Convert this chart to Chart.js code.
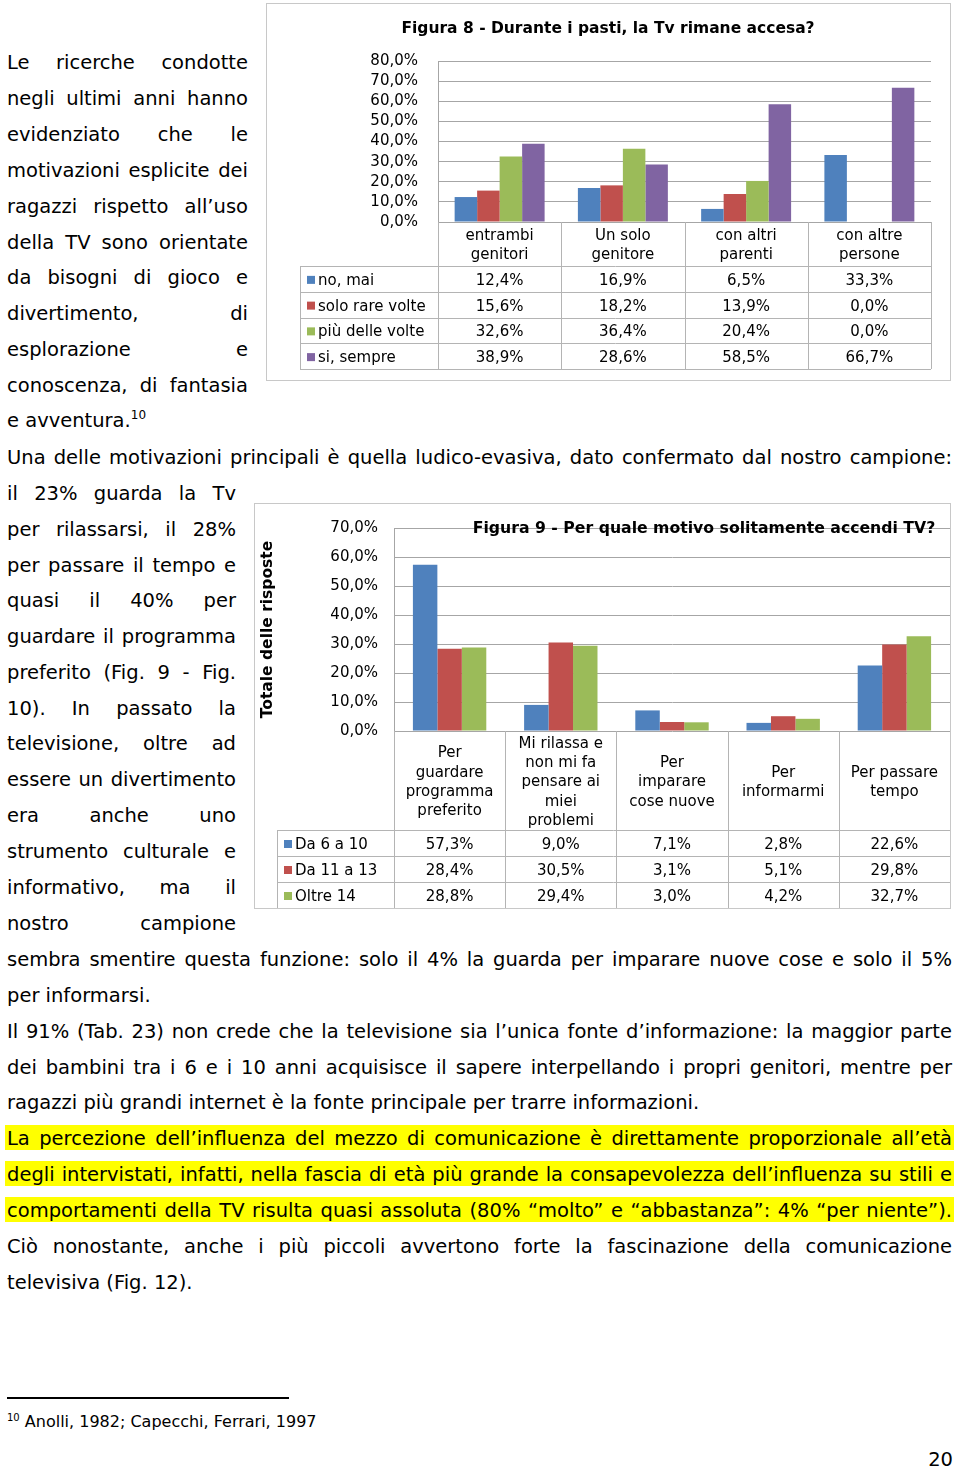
<!DOCTYPE html>
<html>
<head>
<meta charset="utf-8">
<script src="https://cdn.jsdelivr.net/npm/chart.js"></script>
<style>
  html, body { margin: 0; padding: 0; background: #fff; }
  #page { position: relative; width: 960px; height: 1469px; overflow: hidden; background: #fff;
          font-family: "DejaVu Sans", Verdana, sans-serif; color: #000; }
  .ln { position: absolute; height: 36px; line-height: 36px; font-size: 19.5px; white-space: nowrap; }
  .hl { position: absolute; background: #ffff00; height: 25px; }
  sup { font-size: 12px; line-height: 0; vertical-align: 8px; }
  canvas { position: absolute; }
</style>
</head>
<body>
<div id="page">
  <canvas id="fig8" width="685" height="378" style="left:266px;top:3px"></canvas>
  <canvas id="fig9" width="697" height="406" style="left:254px;top:503px"></canvas>
</div>
<script>
// figura 8 - durante i pasti
const cats8 = [['entrambi', 'genitori'], ['Un solo', 'genitore'], ['con altri', 'parenti'], ['con altre', 'persone']];
const noMai = [12.4, 16.9, 6.5, 33.3];
const soloRare = [15.6, 18.2, 13.9, 0.0];
const piuVolte = [32.6, 36.4, 20.4, 0.0];
const siSempre = [38.9, 28.6, 58.5, 66.7];
const series8 = ['no, mai', 'solo rare volte', 'più delle volte', 'si, sempre'];
const yMax8 = 80;

// figura 9 - perche accendi la tv
const cats9 = [['Per', 'guardare', 'programma', 'preferito'], ['Mi rilassa e', 'non mi fa', 'pensare ai', 'miei', 'problemi'],
  ['Per', 'imparare', 'cose nuove'], ['Per', 'informarmi'], ['Per passare', 'tempo']];
const da6a10 = [57.3, 9.0, 7.1, 2.8, 22.6];
const da11a13 = [28.4, 30.5, 3.1, 5.1, 29.8];
const oltre14 = [28.8, 29.4, 3.0, 4.2, 32.7];
const series9 = ['Da 6 a 10', 'Da 11 a 13', 'Oltre 14'];
const yMax9 = 70;

const colors = ['#4f81bd', '#c0504d', '#9bbb59', '#8064a2'];
const pct = v => Number(v).toFixed(1).replace('.', ',') + '%';

Chart.defaults.font.family = '"DejaVu Sans", Verdana, sans-serif';
Chart.defaults.font.size = 15;
Chart.defaults.color = '#000';

// draws the data table under the plot, the frame and the title
const tablePlugin = {
  id: 'dataTable',
  afterDraw(chart, args, o) {
    const { ctx, chartArea: ca, scales: { x } } = chart;
    const labels = chart.data.labels;
    const ds = chart.data.datasets;
    const n = labels.length;
    const colW = (ca.right - ca.left) / n;
    const tb = o.headerBottom + ds.length * o.rowH;
    ctx.save();
    ctx.strokeStyle = '#b4b4b4';
    ctx.lineWidth = 1;
    ctx.beginPath();
    for (let r = 0; r <= ds.length; r++) {
      const y = Math.round(o.headerBottom + r * o.rowH) + 0.5;
      ctx.moveTo(o.legendLeft, y); ctx.lineTo(ca.right, y);
    }
    for (let i = 0; i <= n; i++) {
      const xx = Math.round(ca.left + i * colW) + 0.5;
      ctx.moveTo(xx, ca.bottom); ctx.lineTo(xx, tb);
    }
    ctx.moveTo(o.legendLeft + 0.5, o.headerBottom); ctx.lineTo(o.legendLeft + 0.5, tb);
    ctx.stroke();
    ctx.strokeStyle = '#c8c8c8';
    ctx.strokeRect(0.5, 0.5, chart.width - 1, chart.height - 1);

    ctx.fillStyle = '#000';
    ctx.font = '15px "DejaVu Sans"';
    ctx.textAlign = 'center';
    ctx.textBaseline = 'middle';
    const hc = (ca.bottom + o.headerBottom) / 2 + 2;
    labels.forEach((lab, i) => {
      const cx = x.getPixelForValue(i);
      lab.forEach((t, k) => ctx.fillText(t, cx, hc + (k - (lab.length - 1) / 2) * o.lineH));
      ds.forEach((d, r) => ctx.fillText(pct(d.data[i]), cx, o.headerBottom + (r + 0.5) * o.rowH + 2));
    });
    ctx.textAlign = 'left';
    ds.forEach((d, r) => {
      const cy = o.headerBottom + (r + 0.5) * o.rowH;
      ctx.fillStyle = d.backgroundColor;
      ctx.fillRect(o.legendLeft + 7, cy - 3, 8, 8);
      ctx.fillStyle = '#000';
      ctx.fillText(d.label, o.legendLeft + 18, cy + 2);
    });
    ctx.font = 'bold ' + o.titleSize + 'px "DejaVu Sans"';
    ctx.textAlign = 'center';
    ctx.fillText(o.title, o.titleX, o.titleY);
    ctx.restore();
  }
};

function makeChart(id, cats, names, values, yMax, catPct, pad, yWidth, tickPad, tableOpts, yTitle) {
  return new Chart(document.getElementById(id), {
    type: 'bar',
    data: {
      labels: cats,
      datasets: values.map((v, i) => ({
        label: names[i], data: v, backgroundColor: colors[i],
        barPercentage: 1, categoryPercentage: catPct
      }))
    },
    options: {
      responsive: false,
      animation: false,
      layout: { padding: pad },
      plugins: { legend: { display: false }, tooltip: { enabled: false }, dataTable: tableOpts },
      scales: {
        x: { display: false },
        y: {
          min: 0, max: yMax,
          ticks: { stepSize: 10, padding: tickPad, autoSkip: false, callback: v => pct(v) },
          grid: { color: '#a6a6a6', drawTicks: false },
          border: { color: '#a6a6a6' },
          title: yTitle ? { display: true, text: yTitle, font: { size: 15.5, weight: 'bold' }, padding: { top: 5, bottom: 0 } } : { display: false },
          afterFit(s) { s.width = yWidth; }
        }
      }
    },
    plugins: [tablePlugin]
  });
}

makeChart('fig8', cats8, series8, [noMai, soloRare, piuVolte, siSempre], yMax8, 0.73,
  { left: 0, top: 58, right: 20, bottom: 159 }, 172, 20,
  { headerBottom: 263, rowH: 25.75, legendLeft: 34, lineH: 19, title: 'Figura 8 - Durante i pasti, la Tv rimane accesa?', titleSize: 15.5, titleX: 342, titleY: 25.5 });

makeChart('fig9', cats9, series9, [da6a10, da11a13, oltre14], yMax9, 0.66,
  { left: 0, top: 10, right: 1, bottom: 178 }, 140, 16,
  { headerBottom: 327, rowH: 26, legendLeft: 23, lineH: 19.3, title: 'Figura 9 - Per quale motivo solitamente accendi TV?', titleSize: 15.7, titleX: 450, titleY: 25.5 },
  'Totale delle risposte');

// page text, one entry per printed line: [text, x, y, width, justify, highlight]
const page = document.getElementById('page');
const L1 = 7, W1 = 241, W2 = 229, WF = 945;
const lines = [
  ['Le ricerche condotte', L1, 62, W1, 1],
  ['negli ultimi anni hanno', L1, 98, W1, 1],
  ['evidenziato che le', L1, 134, W1, 1],
  ['motivazioni esplicite dei', L1, 170, W1, 1],
  ['ragazzi rispetto all’uso', L1, 206, W1, 1],
  ['della TV sono orientate', L1, 242, W1, 1],
  ['da bisogni di gioco e', L1, 277, W1, 1],
  ['divertimento, di', L1, 313, W1, 1],
  ['esplorazione e', L1, 349, W1, 1],
  ['conoscenza, di fantasia', L1, 385, W1, 1],
  ['e avventura.<sup>10</sup>', L1, 420, W1, 0],
  ['Una delle motivazioni principali è quella ludico-evasiva, dato confermato dal nostro campione:', L1, 457, WF, 1],
  ['il 23% guarda la Tv', L1, 493, W2, 1],
  ['per rilassarsi, il 28%', L1, 529, W2, 1],
  ['per passare il tempo e', L1, 565, W2, 1],
  ['quasi il 40% per', L1, 600, W2, 1],
  ['guardare il programma', L1, 636, W2, 1],
  ['preferito (Fig. 9 - Fig.', L1, 672, W2, 1],
  ['10). In passato la', L1, 708, W2, 1],
  ['televisione, oltre ad', L1, 743, W2, 1],
  ['essere un divertimento', L1, 779, W2, 1],
  ['era anche uno', L1, 815, W2, 1],
  ['strumento culturale e', L1, 851, W2, 1],
  ['informativo, ma il', L1, 887, W2, 1],
  ['nostro campione', L1, 923, W2, 1],
  ['sembra smentire questa funzione: solo il 4% la guarda per imparare nuove cose e solo il 5%', L1, 959, WF, 1],
  ['per informarsi.', L1, 995, WF, 0],
  ['Il 91% (Tab. 23) non crede che la televisione sia l’unica fonte d’informazione: la maggior parte', L1, 1031, WF, 1],
  ['dei bambini tra i 6 e i 10 anni acquisisce il sapere interpellando i propri genitori, mentre per', L1, 1067, WF, 1],
  ['ragazzi più grandi internet è la fonte principale per trarre informazioni.', L1, 1102, WF, 0],
  ['La percezione dell’influenza del mezzo di comunicazione è direttamente proporzionale all’età', L1, 1138, WF, 1, 1],
  ['degli intervistati, infatti, nella fascia di età più grande la consapevolezza dell’influenza su stili e', L1, 1174, WF, 1, 1],
  ['comportamenti della TV risulta quasi assoluta (80% “molto” e “abbastanza”: 4% “per niente”).', L1, 1210, WF, 1, 1],
  ['Ciò nonostante, anche i più piccoli avvertono forte la fascinazione della comunicazione', L1, 1246, WF, 1],
  ['televisiva (Fig. 12).', L1, 1282, WF, 0]
];

lines.forEach(([txt, x, y, w, just, hl]) => {
  if (hl) {
    const h = document.createElement('div');
    h.className = 'hl';
    h.style.left = (x - 2) + 'px'; h.style.top = (y - 13) + 'px'; h.style.width = (w + 4) + 'px';
    page.appendChild(h);
  }
  const d = document.createElement('div');
  d.className = 'ln';
  d.style.left = x + 'px'; d.style.top = (y - 17.5) + 'px'; d.style.width = w + 'px';
  const s = document.createElement('span');
  s.innerHTML = txt;
  d.appendChild(s);
  page.appendChild(d);
  if (just) {
    const nat = s.getBoundingClientRect().width;
    const gaps = (txt.match(/ /g) || []).length;
    if (gaps) s.style.wordSpacing = ((w - nat) / gaps) + 'px';
  }
});

// footnote and page number
const rule = document.createElement('div');
rule.style.cssText = 'position:absolute;left:7px;top:1397px;width:282px;height:1.5px;background:#000';
page.appendChild(rule);
const fn = document.createElement('div');
fn.style.cssText = 'position:absolute;left:7px;top:1412px;font-size:16px;line-height:20px;white-space:nowrap';
fn.innerHTML = '<span style="font-size:10px;vertical-align:6px;line-height:0">10</span> Anolli, 1982; Capecchi, Ferrari, 1997';
page.appendChild(fn);
const pn = document.createElement('div');
pn.style.cssText = 'position:absolute;right:7px;top:1448px;font-size:19.5px;line-height:24px';
pn.textContent = '20';
page.appendChild(pn);
</script>
</body>
</html>
